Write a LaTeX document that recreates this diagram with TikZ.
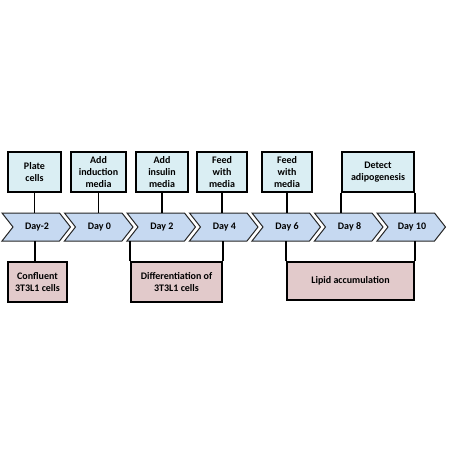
\documentclass[tikz,border=0pt]{standalone}
\usepackage{fontspec}
\setmainfont{Carlito}
\usetikzlibrary{calc}

\definecolor{stepcyan}{HTML}{DAEEF3}
\definecolor{daybluefill}{HTML}{C6D9F1}
\definecolor{phasepink}{HTML}{E2CACB}

\begin{document}
\begin{tikzpicture}[x=1pt,y=-1pt,
    every node/.style={font=\fontsize{10}{12}\selectfont\bfseries, align=center},
    todo/.style={draw=black, line width=1.6pt, fill=stepcyan, minimum height=40pt, inner sep=0pt},
    phase/.style={draw=black, line width=1.6pt, fill=phasepink, minimum height=40pt, inner sep=0pt},
    chev/.style={draw=black!85, line width=1pt, fill=daybluefill},
    daylbl/.style={minimum width=70pt, minimum height=28pt, inner sep=0pt},
    link/.style={line width=1.6pt}]
  \useasboundingbox (0,0) rectangle (450,450);

  % time line
  \foreach \lbl [count=\i from 0] in {Day-2,Day 0,Day 2,Day 4,Day 6,Day 8,Day 10} {
    \pgfmathsetmacro\xa{2+62.5*\i}
    \draw[chev] (\xa,213) -- ++(57.5,0) -- ++(11,14) -- ++(-11,14) -- ++(-57.5,0) -- ++(11,-14) -- cycle;
    \node[daylbl](d\i) at (\xa+35,227) {\lbl};
  }

  % what is done
  \node[todo, minimum width=53pt](plate)  at (34.5,172) {Plate\\cells};
  \node[todo, minimum width=55pt](induct) at (98.5,172) {Add\\induction\\media};
  \node[todo, minimum width=52pt](insul)  at (162,172)  {Add\\insulin\\media};
  \node[todo, minimum width=50pt](feedA)  at (222,172)  {Feed\\with\\media};
  \node[todo, minimum width=50pt](feedB)  at (287,172)  {Feed\\with\\media};
  \node[todo, minimum width=72pt](detect) at (378,172)  {Detect\\adipogenesis};

  \draw[link] (plate.south)  -- (plate.south |- d0.north);
  \draw[link] (induct.south) -- (induct.south |- d1.north);
  \draw[link] (insul.south)  -- (insul.south |- d2.north);
  \draw[link] (feedA.south)  -- (feedA.south |- d3.north);
  \draw[link] (feedB.south)  -- (feedB.south |- d4.north);
  \draw[link] (detect.south west) -- (detect.south west |- d5.north);
  \draw[link] (detect.south east) -- (detect.south east |- d6.north);

  % what the cells do
  \node[phase, minimum width=59pt](confl) at (37.5,282)  {Confluent\\3T3L1 cells};
  \node[phase, minimum width=91pt](diff)  at (176.5,282) {Differentiation of\\3T3L1 cells};
  \node[phase, minimum width=127pt, minimum height=38pt](lipid) at (350.5,281) {Lipid accumulation};

  \draw[link] ($(confl.north)+(-2.5,0)$) -- ($(confl.north |- d0.south)+(-2.5,0)$);
  \draw[link] (diff.north west) -- (diff.north west |- d2.south);
  \draw[link] (diff.north east) -- (diff.north east |- d3.south);
  \draw[link] (lipid.north west) -- (lipid.north west |- d4.south);
  \draw[link] (lipid.north east) -- (lipid.north east |- d6.south);
\end{tikzpicture}
\end{document}
